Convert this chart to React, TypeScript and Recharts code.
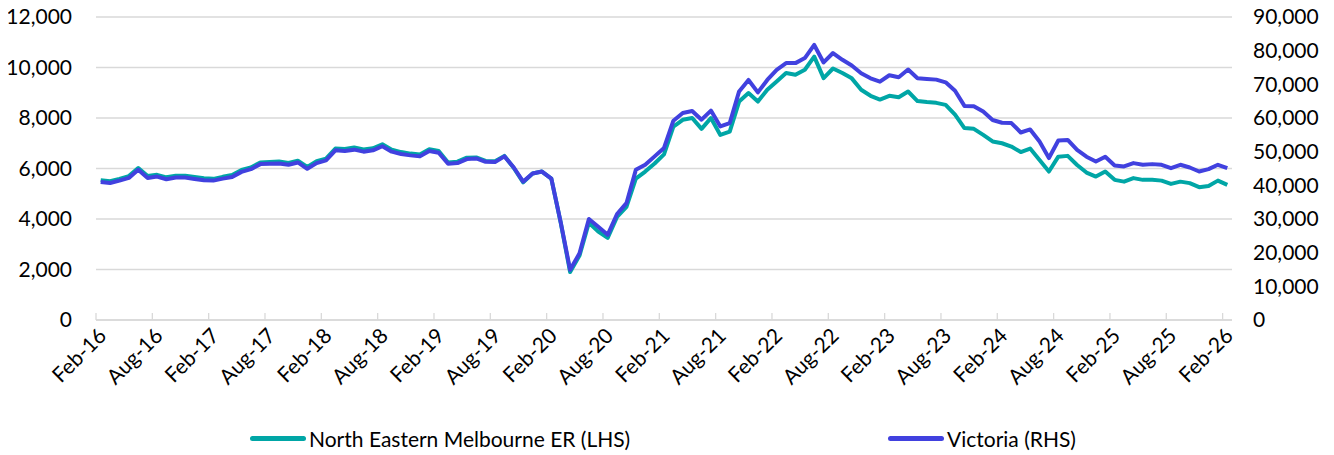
import React from 'react';
import { LineChart, Line, XAxis, YAxis, CartesianGrid } from 'recharts';

const MONTH_NAMES = ['Jan', 'Feb', 'Mar', 'Apr', 'May', 'Jun', 'Jul', 'Aug', 'Sep', 'Oct', 'Nov', 'Dec'];
const START_YEAR = 2016;
const START_MONTH_INDEX = 1; // Feb

// North Eastern Melbourne ER (LHS)
const northEasternMelbourne = [
  5540, 5500, 5590, 5700, 6020, 5700, 5750, 5650, 5710, 5710, 5660, 5610,
  5590, 5670, 5740, 5940, 6040, 6240, 6260, 6280, 6220, 6310, 6060, 6290,
  6390, 6790, 6770, 6830, 6750, 6800, 6960, 6740, 6650, 6590, 6550, 6760,
  6690, 6240, 6270, 6430, 6440, 6300, 6290, 6500, 6020, 5450, 5800, 5880,
  5600, 3850, 1900, 2550, 3850, 3500, 3250, 4080, 4480, 5600, 5880, 6200,
  6560, 7660, 7930, 8000, 7570, 8000, 7330, 7460, 8650, 8990, 8650, 9120,
  9450, 9780, 9710, 9910, 10430, 9580, 9960, 9780, 9570, 9120, 8880, 8730,
  8880, 8820, 9050, 8670, 8630, 8600, 8520, 8130, 7600, 7570, 7330, 7070,
  7000, 6870, 6650, 6790, 6340, 5880, 6470, 6500, 6140, 5840, 5680, 5880,
  5550, 5480, 5620, 5550, 5550, 5520, 5390, 5480, 5420, 5260, 5310, 5520,
  5350,
];

// Victoria (RHS)
const victoria = [
  41000, 40700, 41400, 42200, 44600, 42200, 42600, 41800, 42300, 42300, 41900, 41500,
  41400, 42000, 42500, 44000, 44800, 46300, 46400, 46500, 46100, 46800, 44900, 46600,
  47400, 50400, 50200, 50600, 50000, 50400, 51600, 50000, 49300, 48900, 48600, 50200,
  49700, 46400, 46600, 47800, 48000, 47000, 46900, 48600, 45300, 41100, 43500, 44100,
  42000, 29000, 14900, 19800, 30000, 27700, 25300, 31500, 34700, 44600, 46100, 48600,
  51100, 59200, 61500, 62100, 59500, 62200, 57500, 58500, 67900, 71300, 67600, 71300,
  74300, 76300, 76300, 77800, 81700, 76500, 79300, 77300, 75600, 73300, 71800, 70800,
  72700, 72100, 74400, 71800, 71600, 71400, 70600, 68100, 63600, 63500, 61900, 59400,
  58600, 58500, 55700, 56600, 53000, 48100, 53300, 53500, 50500, 48500, 47100, 48500,
  45900, 45600, 46600, 46100, 46300, 46100, 45100, 46100, 45300, 44100, 44800, 46100,
  45100,
];

const categories = northEasternMelbourne.map((_, i) => {
  const m = START_MONTH_INDEX + i;
  const year = START_YEAR + Math.floor(m / 12);
  return `${MONTH_NAMES[m % 12]}-${String(year % 100).padStart(2, '0')}`;
});

const leftTicks = [0, 2000, 4000, 6000, 8000, 10000, 12000];
const rightTicks = [0, 10000, 20000, 30000, 40000, 50000, 60000, 70000, 80000, 90000];

const seriesNames = ['North Eastern Melbourne ER (LHS)', 'Victoria (RHS)'];
const seriesColors = ['#00A6A6', '#4141DF'];

const data = categories.map((month, i) => ({
  month,
  nem: northEasternMelbourne[i],
  vic: victoria[i],
}));

const FONT = 'Lato, "Open Sans", sans-serif';
const GRID = '#D9D9D9';
const HALF_BAND = 4.69;

const fmt = (v: number) => v.toLocaleString('en-US');

function XTick(props: any) {
  const { x, y, payload } = props;
  const ax = x + 1;
  const ay = y + 11;
  return (
    <g>
      <line x1={x - HALF_BAND} x2={x - HALF_BAND} y1={y - 7} y2={y} stroke={GRID} strokeWidth={1.3} />
      <text
        x={ax}
        y={ay}
        transform={`rotate(-45 ${ax} ${ay})`}
        textAnchor="end"
        dominantBaseline="central"
        fontSize={21}
        fontFamily={FONT}
        fill="#000"
      >
        {payload.value}
      </text>
    </g>
  );
}

export default function App() {
  return (
    <div style={{ position: 'relative', width: 1334, height: 455, marginLeft: -8, marginTop: -8 }}>
      <LineChart
        width={1334}
        height={408}
        data={data}
        margin={{ top: 17, right: 12, bottom: 0, left: 0 }}
      >
        <CartesianGrid yAxisId="left" vertical={false} stroke={GRID} strokeWidth={1.3} />
        <XAxis
          dataKey="month"
          interval={5}
          padding={{ left: HALF_BAND, right: HALF_BAND }}
          height={88}
          tickSize={0}
          tickMargin={0}
          tickLine={false}
          axisLine={{ stroke: GRID, strokeWidth: 1.3 }}
          tick={<XTick />}
        />
        <YAxis
          yAxisId="left"
          orientation="left"
          width={96}
          domain={[0, 12000]}
          ticks={leftTicks}
          tickFormatter={fmt}
          axisLine={false}
          tickLine={false}
          tickSize={0}
          tickMargin={24}
          tick={{ fontSize: 21, fontFamily: FONT, fill: '#000' }}
        />
        <YAxis
          yAxisId="right"
          orientation="right"
          width={90}
          domain={[0, 90000]}
          ticks={rightTicks}
          tickFormatter={fmt}
          axisLine={false}
          tickLine={false}
          tickSize={0}
          tickMargin={21}
          tick={{ fontSize: 21, fontFamily: FONT, fill: '#000', textAnchor: 'start' }}
        />
        <Line
          yAxisId="left"
          dataKey="nem"
          name={seriesNames[0]}
          stroke={seriesColors[0]}
          strokeWidth={4}
          strokeLinejoin="round"
          dot={false}
          activeDot={false}
          isAnimationActive={false}
        />
        <Line
          yAxisId="right"
          dataKey="vic"
          name={seriesNames[1]}
          stroke={seriesColors[1]}
          strokeWidth={4}
          strokeLinejoin="round"
          dot={false}
          activeDot={false}
          isAnimationActive={false}
        />
      </LineChart>
      {[0, 1].map((k) => (
        <div
          key={k}
          style={{
            position: 'absolute',
            left: k === 0 ? 250 : 888,
            top: 426,
            height: 24,
            display: 'flex',
            alignItems: 'center',
            fontFamily: FONT,
            fontSize: 21,
            color: '#000',
            whiteSpace: 'nowrap',
          }}
        >
          <span
            style={{
              display: 'inline-block',
              width: 56,
              height: 5,
              borderRadius: 3,
              background: seriesColors[k],
              marginRight: 3,
            }}
          />
          {seriesNames[k]}
        </div>
      ))}
    </div>
  );
}
